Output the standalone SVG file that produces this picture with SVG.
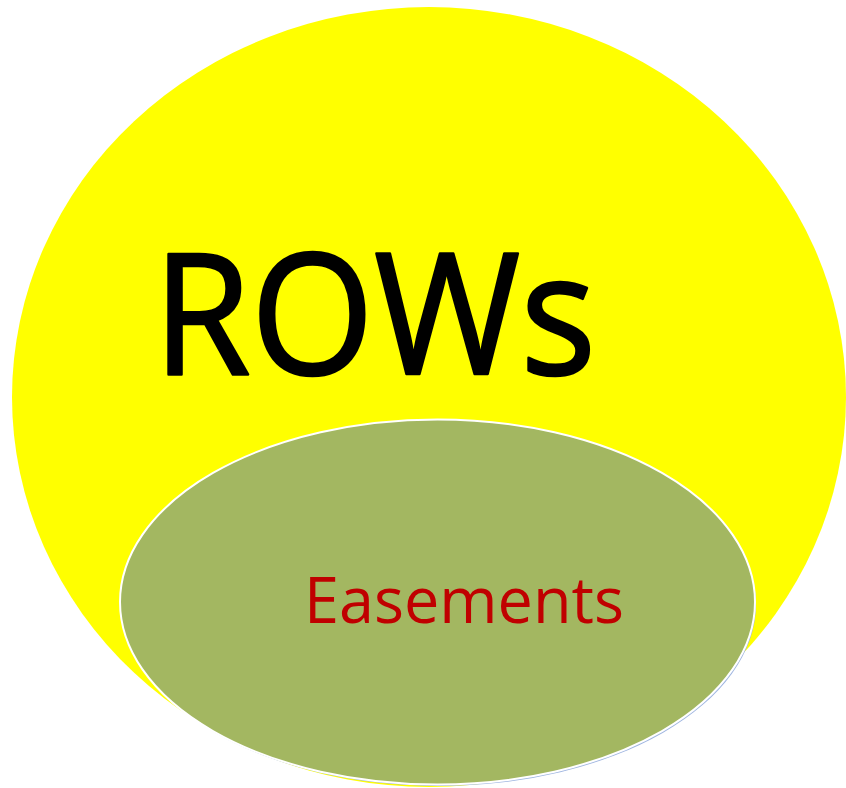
<svg xmlns="http://www.w3.org/2000/svg" width="846" height="788" viewBox="0 0 846 788">
  <style>
    .label { font-family: "Open Sans", "Noto Sans", "Liberation Sans", sans-serif; }
  </style>
  <rect width="846" height="788" fill="#ffffff"/>
  <g id="rows">
    <ellipse cx="429" cy="397" rx="417" ry="390" fill="#ffff00"/>
    <!-- thin outline gives the large title a heavier stroke -->
    <text class="label" x="153" y="374" font-size="169" fill="#000000" stroke="#000000" stroke-width="2.5" stroke-linejoin="round" textLength="443" lengthAdjust="spacingAndGlyphs">ROWs</text>
  </g>
  <g id="easements">
    <ellipse cx="439" cy="604" rx="317" ry="182" fill="#9fb5e0"/>
    <ellipse cx="437.5" cy="602" rx="317.5" ry="182.5" fill="#a3b761" stroke="#ffffff" stroke-width="2"/>
    <text class="label" x="304" y="623" font-size="64" fill="#c00000" textLength="320" lengthAdjust="spacingAndGlyphs">Easements</text>
  </g>
  <g id="connectors"/>
</svg>
